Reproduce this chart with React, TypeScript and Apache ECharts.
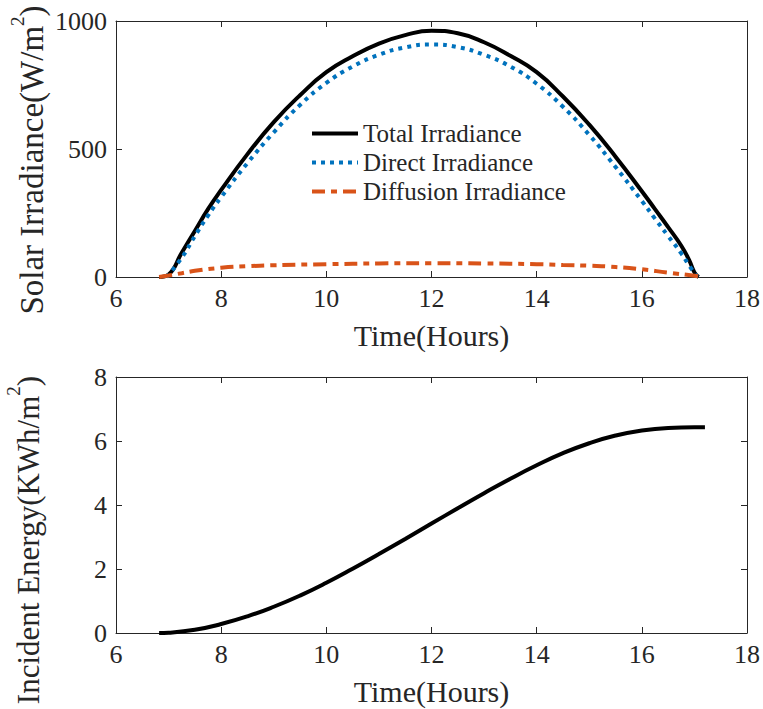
import React, { useEffect, useRef } from "react";
import * as echarts from "echarts";

const totalTime = [6.82, 7.0, 7.25, 7.5, 7.75, 8.0, 8.5, 9.0, 9.5, 10.0, 10.5, 11.0, 11.5, 12.0, 12.5, 13.0, 13.5, 14.0, 14.5, 15.0, 15.5, 16.0, 16.25, 16.5, 16.75, 16.9, 17.0, 17.08];
const totalIrr = [0, 10, 95, 180, 265, 340, 480, 605, 710, 800, 862, 912, 945, 962, 952, 917, 864, 800, 705, 595, 470, 335, 265, 195, 122, 66, 18, 0];

const directTime = [6.96, 7.25, 7.5, 7.75, 8.0, 8.5, 9.0, 9.5, 10.0, 10.5, 11.0, 11.5, 12.0, 12.5, 13.0, 13.5, 14.0, 14.5, 15.0, 15.5, 16.0, 16.25, 16.5, 16.75, 16.9, 17.05];
const directIrr = [0, 75, 160, 240, 312, 445, 565, 672, 758, 822, 868, 897, 908, 898, 868, 822, 755, 665, 555, 430, 297, 228, 160, 92, 45, 0];

const diffuseTime = [6.82, 7.0, 7.25, 7.5, 8.0, 8.5, 9.0, 10.0, 11.0, 12.0, 13.0, 14.0, 14.5, 15.0, 15.5, 16.0, 16.5, 17.0, 17.17];
const diffuseIrr = [0, 6, 15, 24, 36, 42, 46, 50, 53, 54, 53, 50, 47, 44, 39, 30, 17, 5, 0];

const energyTime = [6.82, 7.0, 7.5, 8.0, 8.5, 9.0, 9.5, 10.0, 10.5, 11.0, 11.5, 12.0, 12.5, 13.0, 13.5, 14.0, 14.5, 15.0, 15.5, 16.0, 16.5, 17.0, 17.2];
const energy = [0, 0.01, 0.1, 0.28, 0.52, 0.82, 1.17, 1.57, 2.01, 2.47, 2.94, 3.42, 3.9, 4.37, 4.82, 5.24, 5.62, 5.93, 6.17, 6.33, 6.41, 6.43, 6.43];

const seriesNames = ["Total Irradiance", "Direct Irradiance", "Diffusion Irradiance"];
const xTitle = "Time(Hours)";

const FONT = "Liberation Serif";
const AX = "#262626";

const pairs = (xs: number[], ys: number[]) => xs.map((x, i) => [x, ys[i]]);

export default function App() {
  const ref = useRef<HTMLDivElement>(null);
  useEffect(() => {
    if (!ref.current) return;
    const chart = echarts.init(ref.current, null, { renderer: "svg" });
    const gridBox = [
      { left: 116, top: 21, width: 631, height: 256 },
      { left: 116, top: 377, width: 631, height: 256 },
    ];
    const tickRich = { t: { fontFamily: FONT, fontSize: 26, color: AX } };
    const baseX = (gi: number, labeled: boolean) => ({
      type: "value",
      gridIndex: gi,
      min: 6,
      max: 18,
      interval: 2,
      position: labeled ? "bottom" : "top",
      name: labeled ? xTitle : "",
      nameLocation: "middle",
      nameGap: 43,
      nameTextStyle: { fontFamily: FONT, fontSize: 30, color: AX },
      axisLine: { show: true, onZero: false, lineStyle: { color: AX, width: 1 } },
      axisTick: { show: true, inside: true, length: 6, lineStyle: { color: AX, width: 1 } },
      axisLabel: {
        show: labeled,
        fontFamily: FONT,
        fontSize: 26,
        color: AX,
        margin: 8,
        formatter: (v: number) => `{t|${v}}`,
        rich: tickRich,
      },
      splitLine: { show: false },
    });
    const baseY = (gi: number, labeled: boolean, max: number, interval: number) => ({
      type: "value",
      gridIndex: gi,
      min: 0,
      max,
      interval,
      position: labeled ? "left" : "right",
      axisLine: { show: true, onZero: false, lineStyle: { color: AX, width: 1 } },
      axisTick: { show: true, inside: true, length: 6, lineStyle: { color: AX, width: 1 } },
      axisLabel: {
        show: labeled,
        fontFamily: FONT,
        fontSize: 26,
        color: AX,
        margin: 9,
        formatter: (v: number) => `{t|${v}}`,
        rich: tickRich,
      },
      splitLine: { show: false },
    });
    const yTitle = (x: number, y: number, main: string, size: number) => ({
      type: "text",
      x,
      y,
      rotation: Math.PI / 2,
      style: {
        text: `{a|${main}}{s|2}{a|)}`,
        align: "center",
        verticalAlign: "middle",
        fill: AX,
        rich: {
          a: { fontFamily: FONT, fontSize: size, lineHeight: size, fill: AX },
          s: { fontFamily: FONT, fontSize: 19, lineHeight: 19, padding: [0, 0, 30, 0], fill: AX },
        },
      },
    });
    chart.setOption({
      animation: false,
      backgroundColor: "#ffffff",
      textStyle: { fontFamily: FONT },
      grid: gridBox.map((g) => ({ ...g, containLabel: false })),
      xAxis: [baseX(0, true), baseX(0, false), baseX(1, true), baseX(1, false)],
      yAxis: [baseY(0, true, 1000, 500), baseY(0, false, 1000, 500), baseY(1, true, 8, 2), baseY(1, false, 8, 2)],
      legend: {
        orient: "vertical",
        left: 310,
        top: 119,
        padding: 0,
        itemWidth: 46,
        itemHeight: 14,
        itemGap: 0,
        data: seriesNames,
        itemStyle: { opacity: 0 },
        lineStyle: { width: 4 },
        textStyle: { fontFamily: FONT, fontSize: 25, color: AX, lineHeight: 29 },
      },
      graphic: [
        yTitle(32, 160, "Solar Irradiance(W/m", 33),
        yTitle(28, 540, "Incident Energy(KWh/m", 31),
      ],
      series: [
        {
          name: seriesNames[0],
          type: "line",
          xAxisIndex: 0,
          yAxisIndex: 0,
          data: pairs(totalTime, totalIrr),
          symbol: "none",
          smooth: 0.5,
          color: "#000000",
          lineStyle: { color: "#000000", width: 4 },
          z: 3,
        },
        {
          name: seriesNames[1],
          type: "line",
          xAxisIndex: 0,
          yAxisIndex: 0,
          data: pairs(directTime, directIrr),
          symbol: "none",
          smooth: 0.5,
          color: "#0072BD",
          lineStyle: { color: "#0072BD", width: 4, type: [4, 5], cap: "butt" },
          z: 4,
        },
        {
          name: seriesNames[2],
          type: "line",
          xAxisIndex: 0,
          yAxisIndex: 0,
          data: pairs(diffuseTime, diffuseIrr),
          symbol: "none",
          smooth: 0.5,
          color: "#D95319",
          lineStyle: { color: "#D95319", width: 4, type: [13, 6, 6, 6], cap: "butt" },
          z: 4,
        },
        {
          name: "Incident Energy",
          type: "line",
          xAxisIndex: 2,
          yAxisIndex: 2,
          data: pairs(energyTime, energy),
          symbol: "none",
          smooth: 0.5,
          color: "#000000",
          lineStyle: { color: "#000000", width: 4 },
        },
      ],
    });
    return () => chart.dispose();
  }, []);
  return (
    <div
      ref={ref}
      style={{ position: "fixed", left: 0, top: 0, width: 763, height: 709, background: "#fff" }}
    />
  );
}
